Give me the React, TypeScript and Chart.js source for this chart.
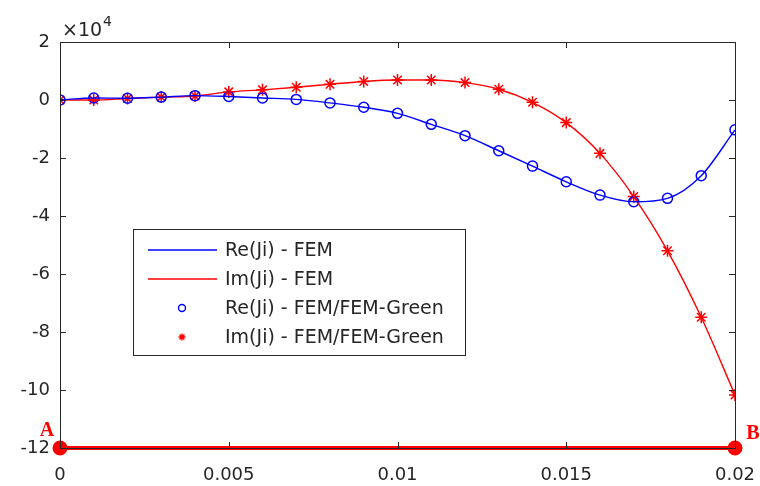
import React, { useEffect, useRef } from "react";
import { Chart, registerables } from "chart.js";

Chart.register(...registerables);

// Data (values in units of 1e4)
const SCALE = 1e4;
const X_VALUES = [0, 0.001, 0.002, 0.003, 0.004, 0.005, 0.006, 0.007, 0.008, 0.009, 0.01, 0.011, 0.012, 0.013, 0.014, 0.015, 0.016, 0.017, 0.018, 0.019, 0.02];
const RE_JI = [0, 0.07, 0.06, 0.1, 0.15, 0.12, 0.07, 0.02, -0.1, -0.25, -0.46, -0.84, -1.23, -1.75, -2.28, -2.82, -3.28, -3.51, -3.39, -2.61, -1.03];
const IM_JI = [0, 0.0, 0.05, 0.1, 0.14, 0.28, 0.35, 0.44, 0.54, 0.64, 0.69, 0.69, 0.6, 0.37, -0.08, -0.78, -1.84, -3.33, -5.2, -7.49, -10.17];
const AB_X = [0, 0.02];
const AB_Y = [-12, -12];
const AB_LABELS = ["A", "B"];

const X_TICKS = [0, 0.005, 0.01, 0.015, 0.02];
const Y_TICKS = [2, 0, -2, -4, -6, -8, -10, -12];

const LEGEND_LABELS = ["Re(Ji) - FEM", "Im(Ji) - FEM", "Re(Ji) - FEM/FEM-Green", "Im(Ji) - FEM/FEM-Green"];

const BLUE = "#0000ff";
const RED = "#ff0000";
const AXIS = "#262626";
const FONT = "'DejaVu Sans', 'Liberation Sans', Arial, sans-serif";

const toPts = (xs: number[], ys: number[]) => xs.map((x, i) => ({ x, y: ys[i] * SCALE }));

function drawStar(ctx: CanvasRenderingContext2D, x: number, y: number, r: number) {
  ctx.beginPath();
  ctx.moveTo(x - r, y); ctx.lineTo(x + r, y);
  ctx.moveTo(x, y - r); ctx.lineTo(x, y + r);
  const d = r * 0.707;
  ctx.moveTo(x - d, y - d); ctx.lineTo(x + d, y + d);
  ctx.moveTo(x - d, y + d); ctx.lineTo(x + d, y - d);
  ctx.stroke();
}

const decorPlugin = {
  id: "decor",
  afterDraw(chart: any) {
    const ctx: CanvasRenderingContext2D = chart.ctx;
    const { left, right, top, bottom } = chart.chartArea;
    const xs = chart.scales.x;
    const ys = chart.scales.y;
    ctx.save();
    ctx.strokeStyle = AXIS;
    ctx.lineWidth = 1;
    ctx.strokeRect(left + 0.5, top + 0.5, right - left, bottom - top);
    const tl = 6;
    ctx.beginPath();
    X_TICKS.forEach((t) => {
      const px = Math.round(xs.getPixelForValue(t)) + 0.5;
      ctx.moveTo(px, bottom); ctx.lineTo(px, bottom - tl);
      ctx.moveTo(px, top); ctx.lineTo(px, top + tl);
    });
    Y_TICKS.forEach((t) => {
      const py = Math.round(ys.getPixelForValue(t * SCALE)) + 0.5;
      ctx.moveTo(left, py); ctx.lineTo(left + tl, py);
      ctx.moveTo(right, py); ctx.lineTo(right - tl, py);
    });
    ctx.stroke();

    // x10^4 exponent label
    ctx.fillStyle = AXIS;
    ctx.textBaseline = "alphabetic";
    ctx.textAlign = "left";
    ctx.font = `19px ${FONT}`;
    ctx.fillText("×10", left + 2, top - 6);
    const w = ctx.measureText("×10").width;
    ctx.font = `14px ${FONT}`;
    ctx.fillText("4", left + 2 + w + 1, top - 16);

    // legend
    const lx = 133, ly = 229, lw = 332, lh = 126;
    ctx.fillStyle = "#ffffff";
    ctx.fillRect(lx, ly, lw, lh);
    ctx.strokeStyle = AXIS;
    ctx.lineWidth = 1;
    ctx.strokeRect(lx + 0.5, ly + 0.5, lw, lh);
    const rowsY = [250, 279, 308, 337];
    ctx.font = `19px ${FONT}`;
    ctx.textBaseline = "middle";
    LEGEND_LABELS.forEach((lab, i) => {
      const y = rowsY[i];
      const col = i % 2 === 0 ? BLUE : RED;
      ctx.strokeStyle = col;
      ctx.lineWidth = 1.4;
      if (i < 2) {
        ctx.beginPath();
        ctx.moveTo(148, y); ctx.lineTo(217, y);
        ctx.stroke();
      } else if (i === 2) {
        ctx.beginPath();
        ctx.arc(182, y, 3.5, 0, Math.PI * 2);
        ctx.stroke();
      } else {
        drawStar(ctx, 182, y, 3.5);
      }
      ctx.fillStyle = AXIS;
      ctx.fillText(lab, 225, y + 1);
    });

    // A / B labels
    ctx.fillStyle = RED;
    ctx.font = `bold 20px 'Liberation Serif', 'DejaVu Serif', serif`;
    ctx.textBaseline = "middle";
    ctx.textAlign = "center";
    const ay = ys.getPixelForValue(AB_Y[0] * SCALE);
    ctx.fillText(AB_LABELS[0], xs.getPixelForValue(AB_X[0]) - 13, ay - 17);
    ctx.fillText(AB_LABELS[1], xs.getPixelForValue(AB_X[1]) + 18, ay - 14);
    ctx.restore();
  },
};

export default function App() {
  const ref = useRef<HTMLCanvasElement | null>(null);
  useEffect(() => {
    if (!ref.current) return;
    const chart = new Chart(ref.current, {
      type: "line",
      data: {
        datasets: [
          {
            label: LEGEND_LABELS[0],
            data: toPts(X_VALUES, RE_JI),
            borderColor: BLUE,
            borderWidth: 1.4,
            pointRadius: 0,
            cubicInterpolationMode: "monotone",
            fill: false,
          },
          {
            label: LEGEND_LABELS[1],
            data: toPts(X_VALUES, IM_JI),
            borderColor: RED,
            borderWidth: 1.4,
            pointRadius: 0,
            cubicInterpolationMode: "monotone",
            fill: false,
          },
          {
            label: LEGEND_LABELS[2],
            data: toPts(X_VALUES, RE_JI),
            showLine: false,
            pointStyle: "circle",
            pointRadius: 5,
            pointBorderWidth: 1.5,
            pointBorderColor: BLUE,
            pointBackgroundColor: "rgba(0,0,0,0)",
            borderColor: BLUE,
          },
          {
            label: LEGEND_LABELS[3],
            data: toPts(X_VALUES, IM_JI),
            showLine: false,
            pointStyle: "star",
            pointRadius: 6,
            pointBorderWidth: 1.5,
            pointBorderColor: RED,
            pointBackgroundColor: RED,
            borderColor: RED,
          },
          {
            label: "A-B",
            data: toPts(AB_X, AB_Y),
            borderColor: RED,
            borderWidth: 4,
            pointRadius: 5.5,
            pointBackgroundColor: RED,
            pointBorderColor: RED,
            clip: false as any,
          },
        ],
      },
      options: {
        animation: false,
        responsive: false,
        maintainAspectRatio: false,
        layout: { padding: { top: 42, right: 25, left: 0, bottom: 0 } },
        plugins: { legend: { display: false }, tooltip: { enabled: false } },
        scales: {
          x: {
            type: "linear",
            min: 0,
            max: 0.02,
            grid: { display: false, drawTicks: false },
            border: { display: false },
            afterFit: (s: any) => { s.height = 38; s.paddingLeft = 0; s.paddingRight = 0; },
            afterBuildTicks: (s: any) => { s.ticks = X_TICKS.map((v) => ({ value: v })); },
            ticks: {
              padding: 17,
              color: AXIS,
              font: { family: FONT, size: 18 },
              maxRotation: 0,
              autoSkip: false,
              callback: (v: any) => String(parseFloat(Number(v).toFixed(4))),
            },
          },
          y: {
            type: "linear",
            min: -12 * SCALE,
            max: 2 * SCALE,
            grid: { display: false, drawTicks: false },
            border: { display: false },
            afterFit: (s: any) => { s.width = 60; s.paddingTop = 0; s.paddingBottom = 0; },
            afterBuildTicks: (s: any) => { s.ticks = Y_TICKS.map((v) => ({ value: v * SCALE })); },
            ticks: {
              padding: 10,
              color: AXIS,
              font: { family: FONT, size: 18 },
              autoSkip: false,
              callback: (v: any) => String(Math.round(Number(v) / SCALE)),
            },
          },
        },
      },
      plugins: [decorPlugin],
    });
    return () => chart.destroy();
  }, []);
  return (
    <div style={{ position: "absolute", left: 0, top: 0, width: 760, height: 486, background: "#fff" }}>
      <canvas ref={ref} width={760} height={486} style={{ display: "block", width: 760, height: 486 }} />
    </div>
  );
}
